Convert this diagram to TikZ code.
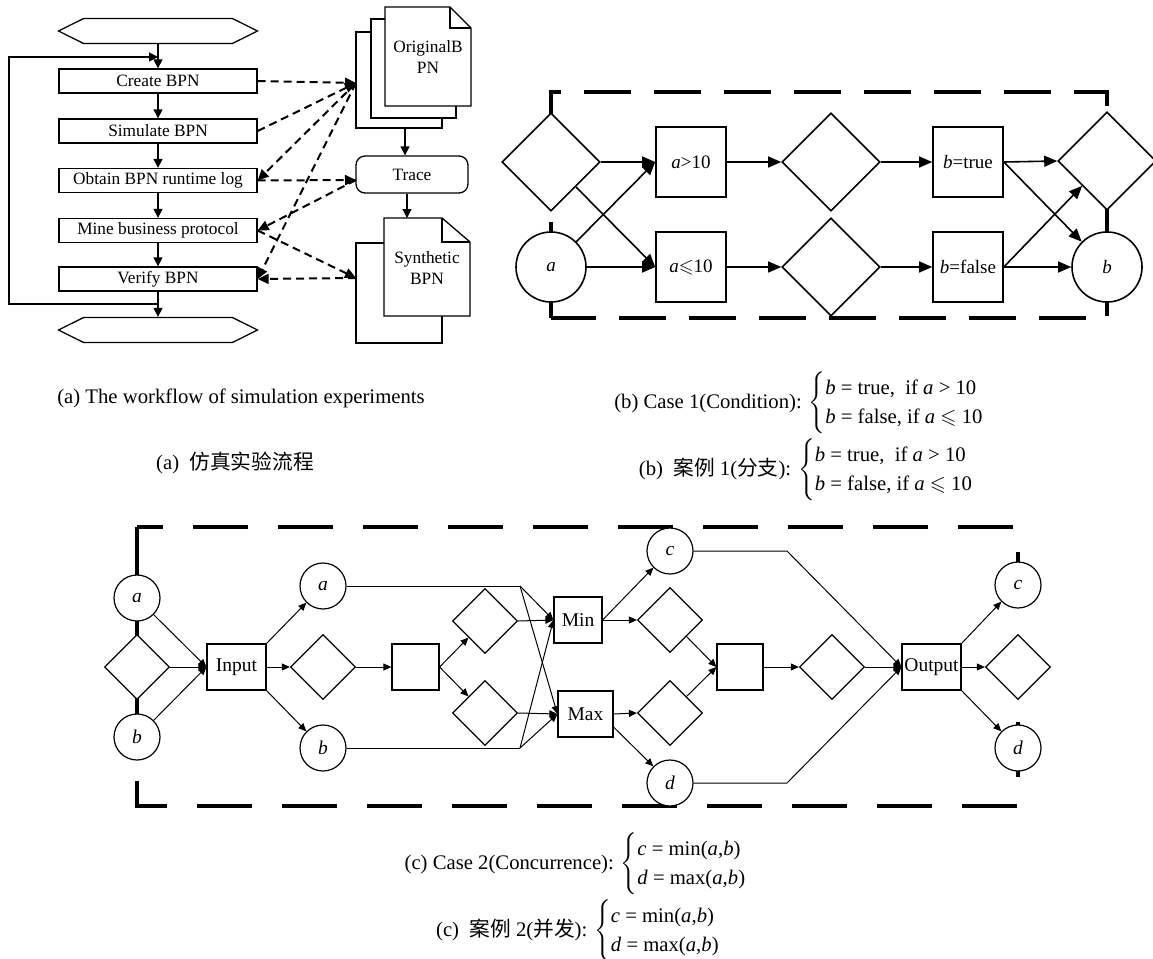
\documentclass[tikz,border=0pt]{standalone}
\usepackage{amsmath,amssymb}
\usepackage{fontspec}
\setmainfont{Liberation Serif}
\newfontfamily\cjk{Noto Sans CJK SC}
\usetikzlibrary{arrows.meta,shapes.geometric,shapes.symbols,calc}

\begin{document}
\begin{tikzpicture}[x=1pt, y=-1pt]
  \tikzset{fbox/.style={draw, line width=1.3pt, fill=white, minimum width=198pt, minimum height=24pt, inner sep=0pt, font=\fontsize{17.3}{20}\selectfont},
    hexa/.style={draw, line width=1.3pt, signal, signal to=east and west, signal pointer angle=53, minimum width=199pt, minimum height=25pt, inner sep=0pt},
    farr/.style={line width=1.3pt, -{Triangle[length=9pt,width=9pt]}},
    darr/.style={line width=2pt, dash pattern=on 8pt off 5pt, -{Triangle[length=11pt,width=10pt]}},
    doc/.style={draw, line width=1.3pt, fill=white},
    dtext/.style={align=center, font=\fontsize{17.3}{21}\selectfont},
    trace/.style={draw, line width=1.3pt, rounded corners=9pt, minimum width=112pt, minimum height=37pt, font=\fontsize{17.3}{20}\selectfont},
    circ/.style={draw, circle, fill=white, inner sep=0pt},
    dia/.style={draw, diamond, fill=white, inner sep=0pt},
    sq/.style={draw, rectangle, fill=white, inner sep=1pt},
    barr/.style={line width=1.6pt, -{Triangle[length=13pt,width=11pt]}},
    carr/.style={line width=1pt, -{Triangle[length=8pt,width=7pt]}},
    captext/.style={font=\fontsize{20.7}{29}\selectfont}}
  \useasboundingbox (0,0) rectangle (1153,958);

  % (a) workflow of the experiments
  \node[hexa] (start) at (158,31) {};
  \node[fbox] (create) at (158,81) {Create BPN};
  \node[fbox] (simul) at (158,131) {Simulate BPN};
  \node[fbox] (obtain) at (158,180.5) {Obtain BPN runtime log};
  \node[fbox] (mine) at (158,230.5) {Mine business protocol};
  \node[fbox] (verify) at (158,279) {Verify BPN};
  \node[hexa] (stop) at (158,330) {};
  \draw[farr] (start) -- (create);
  \draw[farr] (create) -- (simul);
  \draw[farr] (simul) -- (obtain);
  \draw[farr] (obtain) -- (mine);
  \draw[farr] (mine) -- (verify);
  \draw[farr] (verify) -- (stop);
  \coordinate (loopout) at (158,304);
  \coordinate (loopin) at (158,57);
  \draw[farr] (loopout) -- ++(-149,0) |- (loopin);

  % documents and trace
  \draw[doc] (356,32) rectangle (442,128);
  \draw[doc] (371,19) rectangle (456,118);
  \draw[doc] (385,7) -- (450,7) -- (471,28) -- (471,106) -- (385,106) -- cycle;
  \draw[line width=1.3pt] (450,7) |- (471,28);
  \node[dtext] (orig) at (428,57) {OriginalB\\PN};
  \draw[doc] (356,243) rectangle (442,343);
  \draw[doc] (384,218) -- (442,218) -- (470,242) -- (470,316) -- (384,316) -- cycle;
  \draw[line width=1.3pt] (442,218) |- (470,242);
  \node[dtext] (synth) at (427,268) {Synthetic\\BPN};
  \node[trace] (trace) at (412,174.5) {Trace};
  \coordinate (origin) at (356,83);
  \coordinate (origout) at (405,128);
  \coordinate (tracein) at (356,180);
  \coordinate (syntop) at (407,218);
  \coordinate (synin) at (356,278);
  \draw[farr] (origout) -- (origout |- trace.north);
  \draw[farr] (trace.south -| syntop) -- (syntop);
  \draw[darr] (create.east) -- (origin);
  \draw[darr] (simul.east) -- (origin);
  \draw[darr] (origin) -- (obtain.east);
  \draw[darr] (obtain.east) -- (tracein);
  \draw[darr] (tracein) -- (mine.east);
  \draw[darr] (mine.east) -- (synin);
  \draw[darr] (origin) -- (verify.east);
  \draw[darr] (synin) -- (verify.east);

  % (b) case 1, condition
  \begin{scope}[font=\fontsize{19}{22}\selectfont, every node/.append style={line width=1.6pt}]
    \draw[line width=3.5pt, dash pattern=on 47pt off 23pt, dash phase=21pt] (551,318) -- (551,92) -- (1107,92) -- (1107,318) -- cycle;
    \node[dia, minimum width=98pt, minimum height=98pt] (bd1) at (551,162) {};
    \node[circ, minimum size=70pt] (ba) at (551,267) {\textit{a}};
    \node[sq, minimum size=70pt] (bgt) at (691,162) {\textit{a}>10};
    \node[sq, minimum size=70pt] (ble) at (691,267) {\textit{a}$\leqslant$10};
    \node[dia, minimum width=98pt, minimum height=98pt] (bd2) at (831,162) {};
    \node[dia, minimum width=98pt, minimum height=98pt] (bd3) at (831,267) {};
    \node[sq, minimum size=70pt] (btrue) at (968,162) {\textit{b}=true};
    \node[sq, minimum size=70pt] (bfalse) at (968,267) {\textit{b}=false};
    \node[dia, minimum width=98pt, minimum height=98pt] (bd4) at (1107,161) {};
    \node[circ, minimum size=70pt] (bb) at (1107,267) {\textit{b}};
    \draw[barr] (bd1.east) -- (bgt.west);
    \draw[barr] (ba.45) -- (bgt.west);
    \draw[barr] (bd1.south east) -- (ble.west);
    \draw[barr] (ba.east) -- (ble.west);
    \draw[barr] (bgt.east) -- (bd2.west);
    \draw[barr] (ble.east) -- (bd3.west);
    \draw[barr] (bd2.east) -- (btrue.west);
    \draw[barr] (bd3.east) -- (bfalse.west);
    \draw[barr] (btrue.east) -- (bd4.west);
    \draw[barr] (btrue.east) -- (bb.135);
    \draw[barr] (bfalse.east) -- (bd4.south west);
    \draw[barr] (bfalse.east) -- (bb.west);
  \end{scope}

  % (c) case 2, concurrence
  \begin{scope}[font=\fontsize{19.5}{22}\selectfont, every node/.append style={line width=1.2pt}]
    \draw[line width=4pt, dash pattern=on 55pt off 30pt, dash phase=29pt] (137,527) -- (1018,527) -- (1018,806) -- (137,806) -- cycle;
    \tikzset{ccirc/.style={circ, minimum size=46pt}, cdia/.style={dia, minimum width=65pt, minimum height=65pt}}
    \node[ccirc] (la) at (137,598) {\textit{a}};
    \node[cdia] (ld) at (137,667) {};
    \node[ccirc] (lb) at (137,737) {\textit{b}};
    \node[sq, minimum width=59pt, minimum height=46pt] (inp) at (236.5,667) {Input};
    \node[ccirc] (ma) at (323,586) {\textit{a}};
    \node[cdia] (md) at (323,667) {};
    \node[ccirc] (mb) at (323,748) {\textit{b}};
    \node[sq, minimum width=47pt, minimum height=46pt] (box1) at (415.5,667) {};
    \node[cdia] (du) at (485,621) {};
    \node[cdia] (dl) at (485,713) {};
    \node[sq, minimum width=48pt, minimum height=46pt] (mn) at (578,620) {Min};
    \node[sq, minimum width=55pt, minimum height=46pt] (mx) at (585.5,714) {Max};
    \node[ccirc] (mc) at (670,551) {\textit{c}};
    \node[cdia] (dmn) at (670,620) {};
    \node[cdia] (dmx) at (670,713) {};
    \node[ccirc] (mdd) at (670,783) {\textit{d}};
    \node[sq, minimum width=46pt, minimum height=46pt] (box2) at (740,667) {};
    \node[cdia] (dm2) at (832,667) {};
    \node[sq, minimum width=59pt, minimum height=46pt] (out) at (931.5,667) {Output};
    \node[ccirc] (rc) at (1018,585) {\textit{c}};
    \node[cdia] (rd) at (1018,667) {};
    \node[ccirc] (rdd) at (1018,748) {\textit{d}};
    \coordinate (ja) at (520,586);
    \coordinate (jb) at (520,748);
    \coordinate (jc) at (787,551);
    \coordinate (jd) at (787,783);
    \draw[carr] (la.-45) -- (inp.west);
    \draw[carr] (ld.east) -- (inp.west);
    \draw[carr] (lb.45) -- (inp.west);
    \draw[carr] (inp.north east) -- (ma.south west);
    \draw[carr] (inp.east) -- (md.west);
    \draw[carr] (inp.south east) -- (mb.north west);
    \draw[carr] (md.east) -- (box1.west);
    \draw[carr] (box1.east) -- (du.south west);
    \draw[carr] (box1.east) -- (dl.north west);
    \draw[line width=1pt] (ma.east) -- (ja);
    \draw[line width=1pt] (mb.east) -- (jb);
    \draw[carr] (ja) -- (mn.west);
    \draw[carr] (ja) -- (mx.west);
    \draw[carr] (jb) -- (mn.west);
    \draw[carr] (jb) -- (mx.west);
    \draw[carr] (du.east) -- (mn.west);
    \draw[carr] (dl.east) -- (mx.west);
    \draw[carr] (mn.east) -- (mc.south west);
    \draw[carr] (mn.east) -- (dmn.west);
    \draw[carr] (mx.east) -- (dmx.west);
    \draw[carr] (mx.-25) -- (mdd.north west);
    \draw[carr] (dmn.south east) -- (box2.west);
    \draw[carr] (dmx.north east) -- (box2.west);
    \draw[carr] (box2.east) -- (dm2.west);
    \draw[carr] (dm2.east) -- (out.west);
    \draw[carr] (mc.east) -- (jc) -- (out.west);
    \draw[carr] (mdd.east) -- (jd) -- (out.west);
    \draw[carr] (out.north east) -- (rc.south west);
    \draw[carr] (out.east) -- (rd.west);
    \draw[carr] (out.south east) -- (rdd.north west);
  \end{scope}

  % captions
  \node[captext] (capa) at (241,398) {(a) The workflow of simulation experiments};
  \node[captext] (capacn) at (235,463) {(a)\ \ {\cjk 仿真实验流程}};
  \node[captext] (capb) at (799,403) {(b) Case 1(Condition): $\left\{\begin{tabular}{@{}l@{}}\textit{b} = true,\ \ if \textit{a} > 10\\ \textit{b} = false, if \textit{a} $\leqslant$ 10\end{tabular}\right.$};
  \node[captext] (capbcn) at (806,470) {(b)\ \ {\cjk 案例} 1({\cjk 分支}): $\left\{\begin{tabular}{@{}l@{}}\textit{b} = true,\ \ if \textit{a} > 10\\ \textit{b} = false, if \textit{a} $\leqslant$ 10\end{tabular}\right.$};
  \node[captext] (capc) at (575.5,864) {(c) Case 2(Concurrence): $\left\{\begin{tabular}{@{}l@{}}\textit{c} = min(\textit{a},\textit{b})\\ \textit{d} = max(\textit{a},\textit{b})\end{tabular}\right.$};
  \node[captext] (capccn) at (578,931) {(c)\ \ {\cjk 案例} 2({\cjk 并发}): $\left\{\begin{tabular}{@{}l@{}}\textit{c} = min(\textit{a},\textit{b})\\ \textit{d} = max(\textit{a},\textit{b})\end{tabular}\right.$};
\end{tikzpicture}
\end{document}
